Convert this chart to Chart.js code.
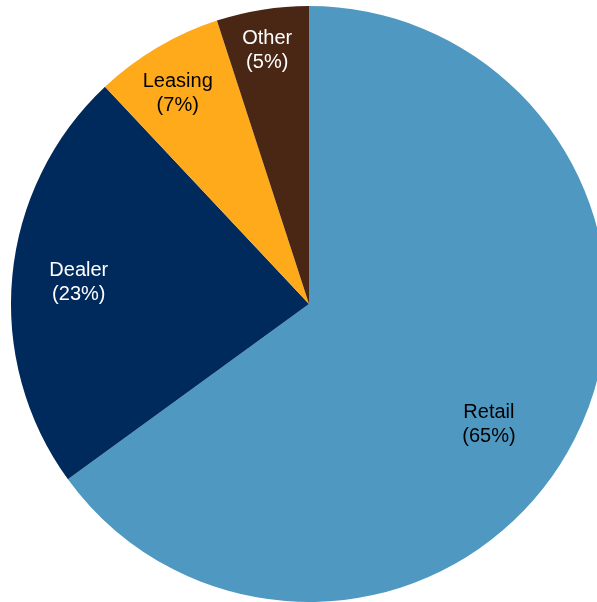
<!DOCTYPE html>
<html>
<head>
<meta charset="utf-8">
<script src="https://cdn.jsdelivr.net/npm/chart.js@4"></script>
<style>
  html, body { margin: 0; padding: 0; background: #ffffff; overflow: hidden; width: 597px; height: 602px; }
  #wrap { position: absolute; left: 0; top: 0; width: 618px; height: 608px; }
</style>
</head>
<body>
<div id="wrap"><canvas id="c" width="618" height="608"></canvas></div>
<script>
const categories = ["Retail", "Dealer", "Leasing", "Other"];
const shares = [65, 23, 7, 5];
const sliceColors = ["#4E98C1", "#002A5C", "#FFAA1A", "#4A2614"];
const labelColors = ["#000000", "#ffffff", "#000000", "#ffffff"];
// label placement: fraction of radius and angle adjustment (degrees)
const labelRadiusFrac = [0.72, 0.78, 0.84, 0.87];
const labelAngleShift = [6.5, 0.5, -1.3, -0.5];

const labelPlugin = {
  id: 'sliceLabels',
  afterDatasetsDraw(chart) {
    const ctx = chart.ctx;
    const meta = chart.getDatasetMeta(0);
    ctx.save();
    ctx.font = '20px "Liberation Sans", Arial, sans-serif';
    ctx.textAlign = 'center';
    ctx.textBaseline = 'middle';
    meta.data.forEach((arc, i) => {
      const p = arc.getProps(['x', 'y', 'startAngle', 'endAngle', 'outerRadius'], true);
      const mid = (p.startAngle + p.endAngle) / 2 + labelAngleShift[i] * Math.PI / 180;
      const r = p.outerRadius * labelRadiusFrac[i];
      const lx = p.x + Math.cos(mid) * r;
      const ly = p.y + Math.sin(mid) * r;
      ctx.fillStyle = labelColors[i];
      ctx.fillText(categories[i], lx + 1, ly - 10);
      ctx.fillText('(' + shares[i] + '%)', lx + 1, ly + 14);
    });
    ctx.restore();
  }
};

new Chart(document.getElementById('c'), {
  type: 'pie',
  data: {
    labels: categories,
    datasets: [{
      data: shares,
      backgroundColor: sliceColors,
      borderWidth: 0,
      hoverOffset: 0
    }]
  },
  options: {
    responsive: false,
    animation: false,
    devicePixelRatio: 1,
    layout: { padding: 6 },
    plugins: {
      legend: { display: false },
      tooltip: { enabled: false }
    }
  },
  plugins: [labelPlugin]
});
</script>
</body>
</html>
